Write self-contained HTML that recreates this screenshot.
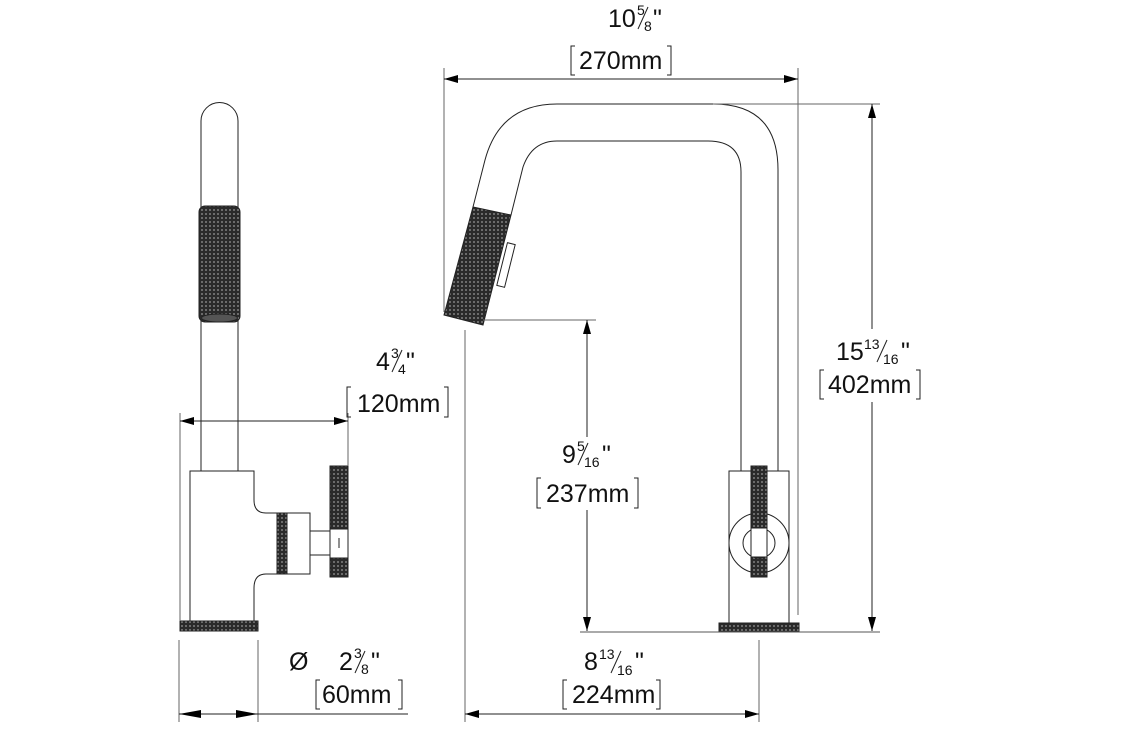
<!DOCTYPE html>
<html><head><meta charset="utf-8"><style>
html,body{margin:0;padding:0;background:#fff;}
svg{display:block;}
text{font-family:"Liberation Sans",sans-serif;fill:#111;}
</style></head><body>
<svg width="1132" height="737" viewBox="0 0 1132 737" xmlns="http://www.w3.org/2000/svg">
<defs>
<pattern id="k" width="4" height="4" patternUnits="userSpaceOnUse">
<rect width="4" height="4" fill="#2a2a2a"/>
<circle cx="2" cy="2" r="0.9" fill="#9a9a9a"/>
</pattern>
<marker id="a" markerWidth="14" markerHeight="8" refX="14" refY="4" orient="auto" markerUnits="userSpaceOnUse">
<path d="M0,0 L14,4 L0,8 Z" fill="#000"/>
</marker>
<marker id="b" markerWidth="14" markerHeight="8" refX="0" refY="4" orient="auto" markerUnits="userSpaceOnUse">
<path d="M14,0 L0,4 L14,8 Z" fill="#000"/>
</marker>
</defs>
<g fill="none" stroke="#222" stroke-width="1">
<path d="M201,471 V121 A18.5,18.5 0 0 1 238,121 V471"/>
<rect x="199" y="206" width="41" height="116" rx="6" fill="url(#k)" stroke="#222"/>
<ellipse cx="219.5" cy="318" rx="18" ry="4" fill="#555"/>
<path d="M190,621 V471 H254 V500 Q254,513 266,513 H277 M277,574 H266 Q254,574 254,588 V621"/>
<rect x="277" y="513" width="10" height="61" fill="url(#k)"/>
<rect x="287" y="513" width="23" height="61" fill="#fff"/>
<rect x="310" y="531" width="20" height="24" fill="#fff"/>
<rect x="330" y="466" width="18" height="111" fill="url(#k)"/>
<rect x="330" y="529" width="18" height="29" fill="#fff"/>
<line x1="339" y1="538" x2="339" y2="548"/>
<rect x="180" y="621" width="78" height="10" fill="url(#k)"/>
<line x1="180" y1="413" x2="180" y2="621" stroke="#666"/>
<line x1="348" y1="413" x2="348" y2="466" stroke="#666"/>
<line x1="180" y1="421" x2="348" y2="421" marker-start="url(#b)" marker-end="url(#a)"/>
<line x1="179" y1="640" x2="179" y2="722" stroke="#666"/>
<line x1="258" y1="640" x2="258" y2="722" stroke="#666"/>
<line x1="179" y1="714" x2="408" y2="714"/>
<path d="M179,714 L201,710 L201,718 Z M258,714 L236,710 L236,718 Z" fill="#000" stroke="none"/>

<path d="M473,207 L485,160 Q500,104 557,104 H713 Q778,104 778,170 V615"/>
<path d="M511,215 L523,167 Q532,141 557,141 H708 Q741,141 741,172 V471"/>
<polygon points="473,207 511,215 483,325 444,315" fill="url(#k)"/>
<rect x="502" y="243" width="8" height="44" fill="#fff" transform="rotate(14 506 265)"/>
<rect x="729" y="471" width="60" height="152" fill="#fff"/>
<circle cx="759" cy="543" r="30"/>
<rect x="751" y="466" width="16" height="111" fill="url(#k)"/>
<ellipse cx="759" cy="543" rx="16" ry="15" fill="#fff"/>
<rect x="751" y="528" width="16" height="29" fill="#fff"/>
<rect x="719" y="623" width="80" height="9" fill="url(#k)"/>
<line x1="444" y1="68" x2="444" y2="312" stroke="#666"/>
<line x1="798" y1="68" x2="798" y2="615" stroke="#666"/>
<line x1="444" y1="79" x2="798" y2="79" marker-start="url(#b)" marker-end="url(#a)"/>
<line x1="713" y1="104" x2="880" y2="104" stroke="#666"/>
<line x1="872" y1="104" x2="872" y2="329" marker-start="url(#b)"/>
<line x1="872" y1="402" x2="872" y2="631" marker-end="url(#a)"/>
<line x1="483" y1="320" x2="596" y2="320" stroke="#666"/>
<line x1="587" y1="320" x2="587" y2="437" marker-start="url(#b)"/>
<line x1="587" y1="510" x2="587" y2="631" marker-end="url(#a)"/>
<line x1="580" y1="632" x2="880" y2="632" stroke="#555"/>
<line x1="465" y1="330" x2="465" y2="722" stroke="#666"/>
<line x1="759" y1="640" x2="759" y2="722" stroke="#666"/>
<line x1="465" y1="714" x2="759" y2="714" marker-start="url(#b)" marker-end="url(#a)"/>
<path d="M351,387 H347 V417 H351 M444,387 H448 V417 H444"/>
<path d="M541,478 H537 V508 H541 M634,478 H638 V508 H634"/>
<path d="M575,46 H571 V75 H575 M667,46 H671 V75 H667"/>
<path d="M824,370 H820 V399 H824 M916,370 H920 V399 H916"/>
<path d="M567,680 H563 V709 H567 M656,680 H660 V709 H656"/>
<path d="M320,680 H316 V709 H320 M398,680 H402 V709 H398"/>
<line x1="392" y1="372" x2="402" y2="350"/>
<line x1="578" y1="465" x2="588" y2="443"/>
<line x1="638" y1="29" x2="648" y2="7"/>
<line x1="877" y1="362" x2="887" y2="340"/>
<line x1="611" y1="673" x2="621" y2="651"/>
<line x1="355" y1="673" x2="365" y2="651"/>
</g>
<g font-size="25">
<text x="376" y="370">4</text><text x="391" y="358" font-size="14">3</text><text x="398" y="374" font-size="14">4</text><text x="406" y="370">"</text>
<text x="357" y="412">120mm</text>
<text x="562" y="463">9</text><text x="577" y="451" font-size="14">5</text><text x="584" y="467" font-size="14">16</text><text x="602" y="463">"</text>
<text x="608" y="27">10</text><text x="637" y="15" font-size="14">5</text><text x="644" y="31" font-size="14">8</text><text x="653" y="27">"</text>
<text x="579" y="69">270mm</text>
<text x="836" y="360">15</text><text x="864" y="349" font-size="14">13</text><text x="883" y="364" font-size="14">16</text><text x="901" y="360">"</text>
<text x="828" y="393">402mm</text>
<text x="584" y="670">8</text><text x="599" y="659" font-size="14">13</text><text x="617" y="675" font-size="14">16</text><text x="635" y="670">"</text>
<text x="572" y="703">224mm</text>
<text x="289" y="670">Ø</text>
<text x="339" y="670">2</text><text x="354" y="658" font-size="14">3</text><text x="361" y="674" font-size="14">8</text><text x="371" y="670">"</text>
<text x="322" y="703">60mm</text>
</g>
<text x="546" y="502" font-size="25">237mm</text>
</svg>
</body></html>
